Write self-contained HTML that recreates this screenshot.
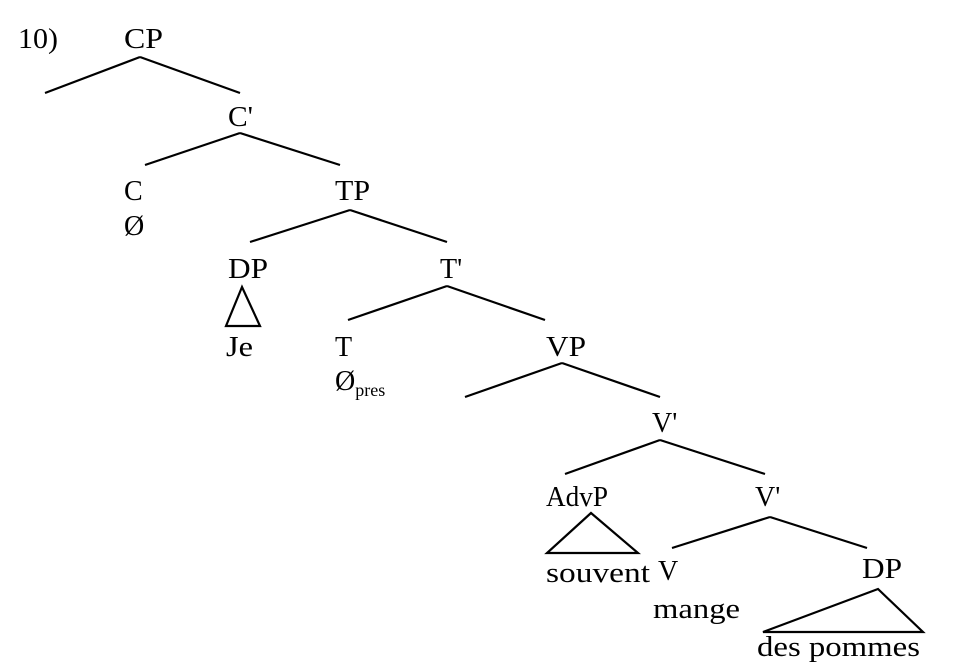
<!DOCTYPE html>
<html><head><meta charset="utf-8"><style>html,body{margin:0;padding:0;background:#fff;}svg{display:block}</style></head>
<body>
<svg width="955" height="666" xmlns="http://www.w3.org/2000/svg" font-family="Liberation Serif, serif" font-size="28" fill="#000">
<g stroke="#000" stroke-width="2.2" fill="none">
<line x1="140" y1="57" x2="45" y2="93"/><line x1="140" y1="57" x2="240" y2="93"/>
<line x1="240" y1="133" x2="145" y2="165"/><line x1="240" y1="133" x2="340" y2="165"/>
<line x1="350" y1="210" x2="250" y2="242"/><line x1="350" y1="210" x2="447" y2="242"/>
<polygon points="242,287 226,326 260,326"/>
<line x1="447" y1="286" x2="348" y2="320"/><line x1="447" y1="286" x2="545" y2="320"/>
<line x1="562" y1="363" x2="465" y2="397"/><line x1="562" y1="363" x2="660" y2="397"/>
<line x1="660" y1="440" x2="565" y2="474"/><line x1="660" y1="440" x2="765" y2="474"/>
<polygon points="591,513 547,553 638,553"/>
<line x1="770" y1="517" x2="672" y2="548"/><line x1="770" y1="517" x2="867" y2="548"/>
<polygon points="878,589 763,632 923,632"/>
</g>
<text x="18" y="48" textLength="40" lengthAdjust="spacingAndGlyphs">10)</text>
<text x="124" y="48" textLength="39" lengthAdjust="spacingAndGlyphs">CP</text>
<text x="228" y="126" textLength="25" lengthAdjust="spacingAndGlyphs">C'</text>
<text x="124" y="200">C</text>
<text x="124" y="235">Ø</text>
<text x="335" y="200" textLength="35" lengthAdjust="spacingAndGlyphs">TP</text>
<text x="228" y="278" textLength="40" lengthAdjust="spacingAndGlyphs">DP</text>
<text x="226" y="356" textLength="27" lengthAdjust="spacingAndGlyphs">Je</text>
<text x="440" y="278">T'</text>
<text x="335" y="356">T</text>
<text x="335" y="390">Ø<tspan font-size="18" dy="6">pres</tspan></text>
<text x="546" y="356" textLength="40" lengthAdjust="spacingAndGlyphs">VP</text>
<text x="652" y="432">V'</text>
<text x="546" y="506" textLength="62" lengthAdjust="spacingAndGlyphs">AdvP</text>
<text x="546" y="582" textLength="104" lengthAdjust="spacingAndGlyphs">souvent</text>
<text x="755" y="506">V'</text>
<text x="658" y="580">V</text>
<text x="653" y="618" textLength="87" lengthAdjust="spacingAndGlyphs">mange</text>
<text x="862" y="578" textLength="40" lengthAdjust="spacingAndGlyphs">DP</text>
<text x="757" y="656" textLength="163" lengthAdjust="spacingAndGlyphs">des pommes</text>
</svg>
</body></html>
